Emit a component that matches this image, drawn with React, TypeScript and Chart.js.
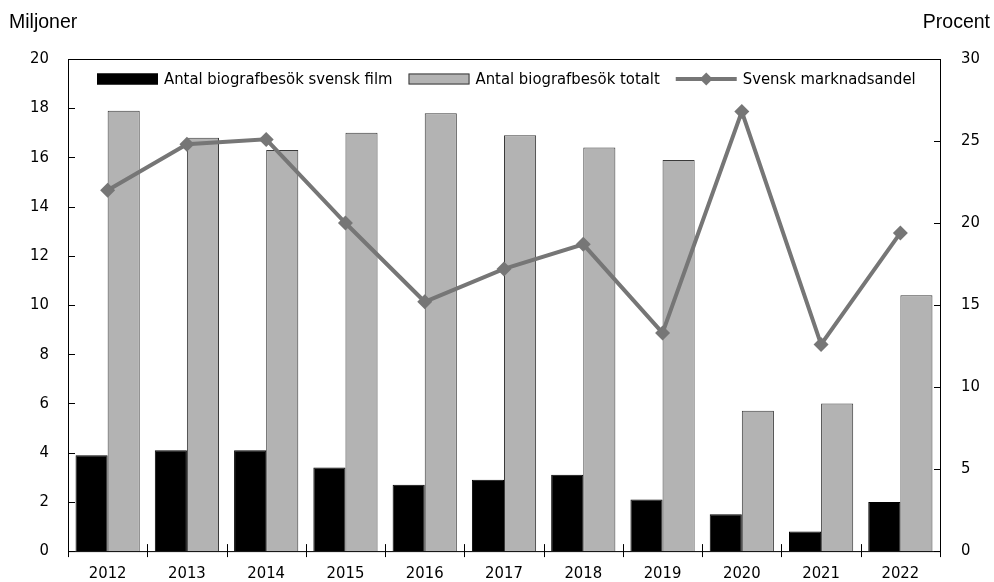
import React, { useEffect, useRef } from "react";
import { Chart, registerables } from "chart.js";

Chart.register(...registerables);

const years = ["2012", "2013", "2014", "2015", "2016", "2017", "2018", "2019", "2020", "2021", "2022"];
const svenskFilm = [3.9, 4.1, 4.1, 3.4, 2.7, 2.9, 3.1, 2.1, 1.5, 0.8, 2.0];
const totalt = [17.9, 16.8, 16.3, 17.0, 17.8, 16.9, 16.4, 15.9, 5.7, 6.0, 10.4];
const marknadsandel = [22.0, 24.8, 25.1, 20.0, 15.2, 17.2, 18.7, 13.3, 26.8, 12.6, 19.4];
const leftTicks = [0, 2, 4, 6, 8, 10, 12, 14, 16, 18, 20];
const rightTicks = [0, 5, 10, 15, 20, 25, 30];

const NARROW = "'DejaVu Sans Condensed', 'Liberation Sans Narrow', sans-serif";
const REGULAR = "'Liberation Sans', Arial, sans-serif";
const FS = 16.5;

const decor = {
  id: "decor",
  afterDraw(chart: any) {
    const { ctx, chartArea: a, scales } = chart;
    ctx.save();
    ctx.strokeStyle = "#000";
    ctx.lineWidth = 1;
    ctx.strokeRect(a.left + 0.5, a.top + 0.5, a.right - a.left, a.bottom - a.top);
    // ticks
    ctx.beginPath();
    for (const v of leftTicks) {
      const y = Math.round(scales.y.getPixelForValue(v)) + 0.5;
      ctx.moveTo(a.left, y);
      ctx.lineTo(a.left + 7, y);
    }
    for (const v of rightTicks) {
      const y = Math.round(scales.y1.getPixelForValue(v)) + 0.5;
      ctx.moveTo(a.right - 6, y);
      ctx.lineTo(a.right + 1, y);
    }
    const n = years.length;
    const cw = scales.x.getPixelForValue(1) - scales.x.getPixelForValue(0);
    for (let i = 0; i <= n; i++) {
      const x = Math.round(scales.x.getPixelForValue(0) - cw / 2 + i * cw) + 0.5;
      ctx.moveTo(x, a.bottom - 7);
      ctx.lineTo(x, a.bottom + 6);
    }
    ctx.stroke();
    // axis titles
    ctx.fillStyle = "#000";
    ctx.font = `19.5px ${REGULAR}`;
    ctx.textBaseline = "alphabetic";
    ctx.textAlign = "left";
    ctx.fillText("Miljoner", 9, 28);
    ctx.textAlign = "right";
    ctx.fillText("Procent", 990, 28);
    // legend
    ctx.font = `${FS}px ${NARROW}`;
    ctx.textAlign = "left";
    ctx.textBaseline = "middle";
    const ds = chart.data.datasets;
    const items = [ds[1], ds[2], ds[0]];
    let x = a.left + 29;
    const cy = 79;
    const bw = 61;
    items.forEach((d: any) => {
      if (d.type === "line") {
        ctx.strokeStyle = d.borderColor;
        ctx.lineWidth = 4;
        ctx.beginPath();
        ctx.moveTo(x, cy);
        ctx.lineTo(x + bw, cy);
        ctx.stroke();
        const r = 6.5;
        const mx = x + bw / 2;
        ctx.fillStyle = d.pointBackgroundColor;
        ctx.beginPath();
        ctx.moveTo(mx, cy - r);
        ctx.lineTo(mx + r, cy);
        ctx.lineTo(mx, cy + r);
        ctx.lineTo(mx - r, cy);
        ctx.closePath();
        ctx.fill();
      } else {
        ctx.fillStyle = d.backgroundColor;
        ctx.fillRect(x, cy - 5.5, bw, 11);
        ctx.strokeStyle = d.borderColor;
        ctx.lineWidth = 1;
        ctx.strokeRect(x + 0.5, cy - 5, bw - 1, 10);
      }
      x += bw + 6;
      ctx.fillStyle = "#000";
      ctx.fillText(d.label, x, cy + 1);
      x += ctx.measureText(d.label).width + 16;
    });
    ctx.restore();
  },
};

export default function App() {
  const ref = useRef<HTMLCanvasElement>(null);
  useEffect(() => {
    if (!ref.current) return;
    Chart.defaults.color = "#000";
    Chart.defaults.font.family = NARROW;
    Chart.defaults.font.size = FS;
    const chart = new Chart(ref.current, {
      type: "bar",
      data: {
        labels: years,
        datasets: [
          {
            type: "line",
            label: "Svensk marknadsandel",
            data: marknadsandel,
            yAxisID: "y1",
            borderColor: "#767676",
            backgroundColor: "#767676",
            borderWidth: 4,
            pointStyle: "rectRot",
            pointRadius: 7.5,
            pointBackgroundColor: "#767676",
            pointBorderWidth: 0,
            tension: 0,
            order: 0,
          } as any,
          {
            type: "bar",
            label: "Antal biografbesök svensk film",
            data: svenskFilm,
            yAxisID: "y",
            backgroundColor: "#000000",
            borderColor: "#000000",
            borderWidth: 1,
            barPercentage: 1,
            categoryPercentage: 0.81,
            order: 1,
          },
          {
            type: "bar",
            label: "Antal biografbesök totalt",
            data: totalt,
            yAxisID: "y",
            backgroundColor: "#b3b3b3",
            borderColor: "#3a3a3a",
            borderWidth: 1,
            barPercentage: 1,
            categoryPercentage: 0.81,
            order: 1,
          },
        ],
      },
      options: {
        animation: false,
        responsive: true,
        maintainAspectRatio: false,
        layout: { padding: { top: 59, left: 0, right: 0, bottom: 0 } },
        plugins: { legend: { display: false }, tooltip: { enabled: false } },
        scales: {
          x: {
            grid: { display: false, drawTicks: false },
            border: { display: false },
            ticks: { padding: 13, maxRotation: 0, autoSkip: false },
            afterFit: (s: any) => { s.height = 30; },
          },
          y: {
            position: "left",
            min: 0,
            max: 20,
            grid: { display: false, drawTicks: false },
            border: { display: false },
            ticks: { stepSize: 2, padding: 19 },
            afterFit: (s: any) => { s.width = 68; },
          },
          y1: {
            position: "right",
            min: 0,
            max: 30,
            grid: { display: false, drawTicks: false },
            border: { display: false },
            ticks: { stepSize: 5, padding: 21 },
            afterFit: (s: any) => { s.width = 54; },
          },
        },
      },
      plugins: [decor],
    });
    return () => chart.destroy();
  }, []);
  return (
    <div style={{ position: "fixed", left: 0, top: 0, width: 994, height: 582 }}>
      <canvas ref={ref} />
    </div>
  );
}
